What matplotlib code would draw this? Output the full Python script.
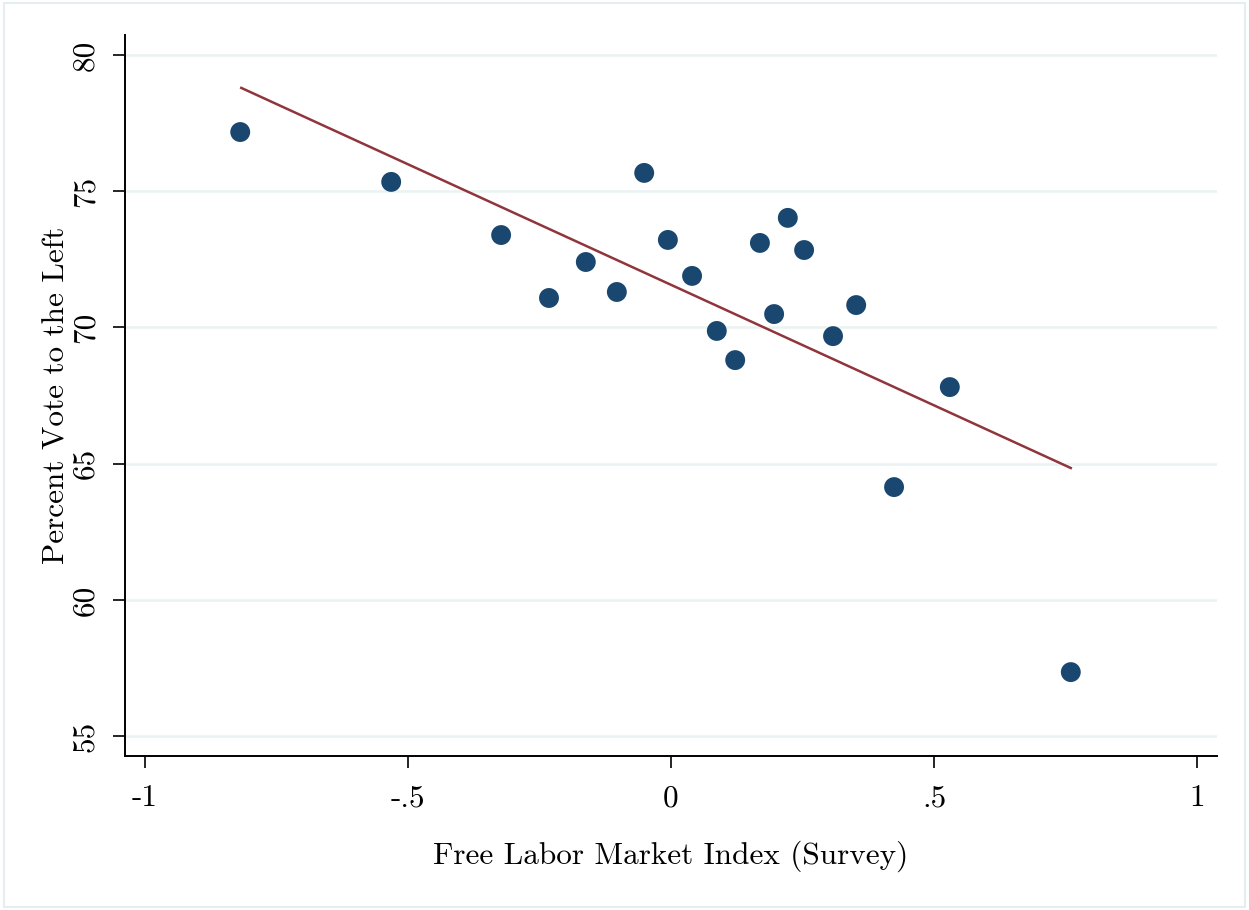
import numpy as np
import matplotlib
matplotlib.use("Agg")
import matplotlib.pyplot as plt
from matplotlib.patches import Rectangle

# survey index vs. left vote share, one point per unit
labor_index = [-0.819, -0.532, -0.323, -0.232, -0.162, -0.103, -0.051, -0.006,
               0.040, 0.087, 0.122, 0.169, 0.196, 0.222, 0.253, 0.308,
               0.352, 0.424, 0.530, 0.760]
vote_left = [77.17, 75.34, 73.39, 71.08, 72.40, 71.30, 75.67, 73.21,
             71.89, 69.87, 68.80, 73.10, 70.49, 74.02, 72.84, 69.68,
             70.82, 64.14, 67.81, 57.35]

# fitted values at the ends of the observed range
fit_x = [-0.817, 0.760]
fit_y = [78.79, 64.84]

x_ticks = [-1, -0.5, 0, 0.5, 1]
x_tick_labels = ["-1", "-.5", "0", ".5", "1"]
y_ticks = [55, 60, 65, 70, 75, 80]

NAVY = "#1a476f"
MAROON = "#90353b"
GRID = "#eaf2f3"

plt.rcParams.update({
    "font.family": "serif",
    "font.serif": ["cmr10", "DejaVu Serif"],
    "axes.unicode_minus": False,
    "mathtext.fontset": "cm",
})

fig = plt.figure(figsize=(12.49, 9.10), dpi=100, facecolor="white")
ax = fig.add_axes([0.1001, 0.1692, 0.8743, 0.7923])

ax.plot(fit_x, fit_y, color=MAROON, lw=1.8, zorder=2)
ax.scatter(labor_index, vote_left, s=205, color=NAVY, edgecolor="none", zorder=3)

ax.set_xlim(-1.038, 1.038)
ax.set_ylim(54.27, 80.73)
ax.set_xticks(x_ticks)
ax.set_xticklabels(x_tick_labels)
ax.set_yticks(y_ticks)
ax.set_yticklabels([str(v) for v in y_ticks], rotation=90, va="center")

ax.grid(axis="y", color=GRID, lw=1.8)
ax.set_axisbelow(True)
for side in ("top", "right"):
    ax.spines[side].set_visible(False)
for side in ("left", "bottom"):
    ax.spines[side].set_linewidth(1.4)
    ax.spines[side].set_color("black")
ax.tick_params(length=8.5, width=1.2, labelsize=22.5, pad=12)
ax.tick_params(axis="y", pad=10)

ax.set_xlabel("Free Labor Market Index (Survey)", fontsize=22.5, labelpad=20)
ax.set_ylabel("Percent Vote to the Left", fontsize=22.5, labelpad=1)

# thin frame around the whole graph region
fig.add_artist(Rectangle((0.003, 0.003), 0.994, 0.994, transform=fig.transFigure,
                         fill=False, edgecolor="#e6edf1", lw=1.5))

fig.savefig("out.png", dpi=100, facecolor="white")
